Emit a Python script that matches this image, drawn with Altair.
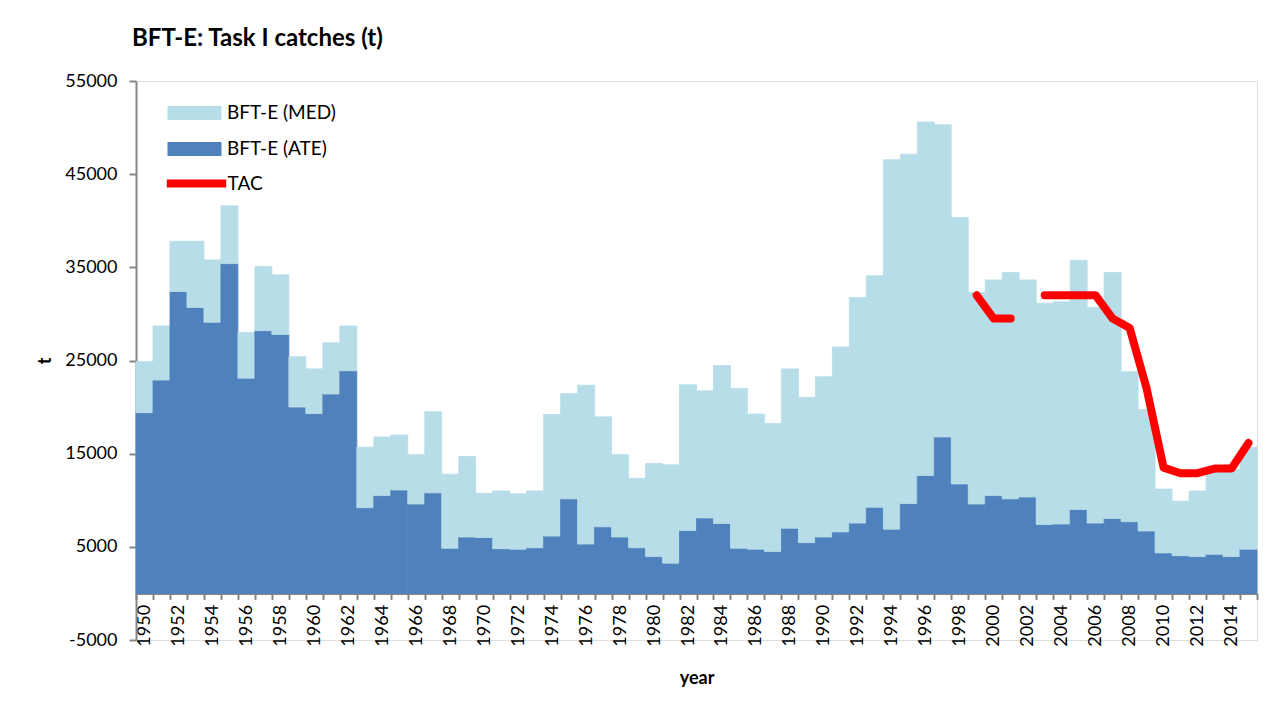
import altair as alt
import pandas as pd

years = list(range(1950, 2016))

ate = [19400, 22900, 32400, 30700, 29100, 35400, 23100, 28200, 27800, 20000,
       19300, 21400, 23900, 9200, 10500, 11100, 9600, 10800, 4850, 6050,
       6000, 4800, 4750, 4900, 6150, 10150, 5300, 7150, 6050, 4900,
       3950, 3250, 6750, 8100, 7500, 4850, 4750, 4500, 7000, 5450,
       6050, 6600, 7550, 9250, 6900, 9650, 12650, 16800, 11750, 9600,
       10500, 10150, 10350, 7400, 7450, 9000, 7550, 8050, 7700, 6700,
       4350, 4050, 3950, 4200, 3950, 4750]

med = [5500, 5800, 5400, 7100, 6700, 6200, 4900, 6900, 6400, 5400,
       4800, 5500, 4800, 6500, 6300, 5900, 5300, 8700, 7950, 8650,
       4750, 6200, 5950, 6100, 13050, 11300, 17050, 11800, 8850, 7450,
       10000, 10550, 15650, 13650, 16950, 17150, 14500, 13750, 17100, 15600,
       17200, 19850, 24200, 24850, 39650, 37500, 37950, 33500, 28600, 22700,
       23150, 24300, 23300, 23750, 23850, 26750, 23150, 26400, 16100, 13050,
       6850, 5850, 7050, 9100, 9350, 10950]

tac_years = [1999, 2000, 2001, 2003, 2004, 2005, 2006, 2007, 2008, 2009,
             2010, 2011, 2012, 2013, 2014, 2015]
tac_values = [32000, 29500, 29500, 32000, 32000, 32000, 32000, 29500, 28500, 22000,
              13500, 12900, 12900, 13400, 13400, 16142]
tac_segment = [1, 1, 1, 2, 2, 2, 2, 2, 2, 2, 2, 2, 2, 2, 2, 2]

series_names = ["BFT-E (MED)", "BFT-E (ATE)"]
series_colors = ["#B7DDE8", "#4F81BD"]
y_ticks = [-5000, 5000, 15000, 25000, 35000, 45000, 55000]

FONT = "Lato"

rows = []
for i, yr in enumerate(years):
    rows.append({"year": yr, "series": "BFT-E (ATE)", "value": ate[i], "ord": 0})
    rows.append({"year": yr, "series": "BFT-E (MED)", "value": med[i], "ord": 1})
catch_df = pd.DataFrame(rows)

tac_df = pd.DataFrame({"year": tac_years, "tac": tac_values,
                       "seg": tac_segment, "name": ["TAC"] * len(tac_years)})

x_scale = alt.Scale(paddingInner=0, paddingOuter=0)
y_scale = alt.Scale(domain=[-5000, 55000], nice=False)

x_axis = alt.Axis(
    title="year", titleFont=FONT, titleFontSize=18, titleFontWeight="bold",
    titleColor="#000000", titlePadding=23,
    labelAngle=270, labelFont=FONT, labelFontSize=18, labelColor="#000000",
    labelExpr="toNumber(datum.value) % 2 == 0 ? datum.label : ''",
    labelOverlap=False, labelPadding=5,
    tickBand="extent", tickSize=6, tickColor="#868686", tickWidth=2,
    domainColor="#868686", domainWidth=2, offset=-46.6, grid=False,
)
y_axis = alt.Axis(
    title="t", titleFont=FONT, titleFontSize=18, titleFontWeight="bold",
    titleColor="#000000", titlePadding=10,
    values=y_ticks,
    labelExpr="datum.value < 0 ? '-' + abs(datum.value) : '' + datum.value",
    labelFont=FONT, labelFontSize=18,
    labelColor="#000000", labelPadding=12,
    tickSize=7, tickColor="#868686", tickWidth=2,
    domainColor="#868686", domainWidth=2, grid=False,
)

bars = alt.Chart(catch_df).mark_bar(strokeWidth=0.8).encode(
    x=alt.X("year:O", scale=x_scale, axis=x_axis),
    y=alt.Y("value:Q", stack="zero", scale=y_scale, axis=y_axis),
    fill=alt.Fill("series:N",
                  scale=alt.Scale(domain=series_names, range=series_colors),
                  legend=alt.Legend(
                      title=None, orient="none", legendX=49, legendY=22.5,
                      symbolType="M-3.0,-0.78L3.0,-0.78L3.0,0.78L-3.0,0.78Z",
                      symbolSize=324, symbolStrokeWidth=0, symbolOpacity=1,
                      labelOffset=23, rowPadding=16, padding=0,
                      labelFont=FONT, labelFontSize=19, labelColor="#000000")),
    stroke=alt.Stroke("series:N",
                      scale=alt.Scale(domain=series_names, range=series_colors),
                      legend=None),
    order=alt.Order("ord:Q", sort="ascending"),
)

line = alt.Chart(tac_df).mark_line(strokeWidth=8, strokeCap="round",
                                    strokeJoin="round").encode(
    x=alt.X("year:O", scale=x_scale),
    y=alt.Y("tac:Q", scale=y_scale),
    detail="seg:N",
    stroke=alt.Stroke("name:N",
                      scale=alt.Scale(domain=["TAC"], range=["#FF0000"]),
                      legend=alt.Legend(
                          title=None, orient="none", legendX=47.5, legendY=89.5,
                          symbolType="M-3.3,0L3.3,0", symbolSize=324,
                          symbolStrokeWidth=8, labelOffset=18, padding=0,
                          labelFont=FONT, labelFontSize=19, labelColor="#000000")),
)

chart = alt.layer(bars, line).resolve_scale(stroke="independent").resolve_legend(
    fill="independent", stroke="independent").properties(
    width=1121,
    height=559,
    autosize=alt.AutoSizeParams(type="none"),
    padding={"left": 128, "top": 73, "right": 12, "bottom": 66},
    title=alt.TitleParams("BFT-E: Task I catches (t)", anchor="start", frame="group",
                          font=FONT, fontSize=24, fontWeight="bold", color="#000000",
                          offset=21, dx=-4),
).configure_view(stroke="#D9D9D9", strokeWidth=2).configure(background="white")

chart.save("out.html", embed_options={"renderer": "svg", "actions": False})
